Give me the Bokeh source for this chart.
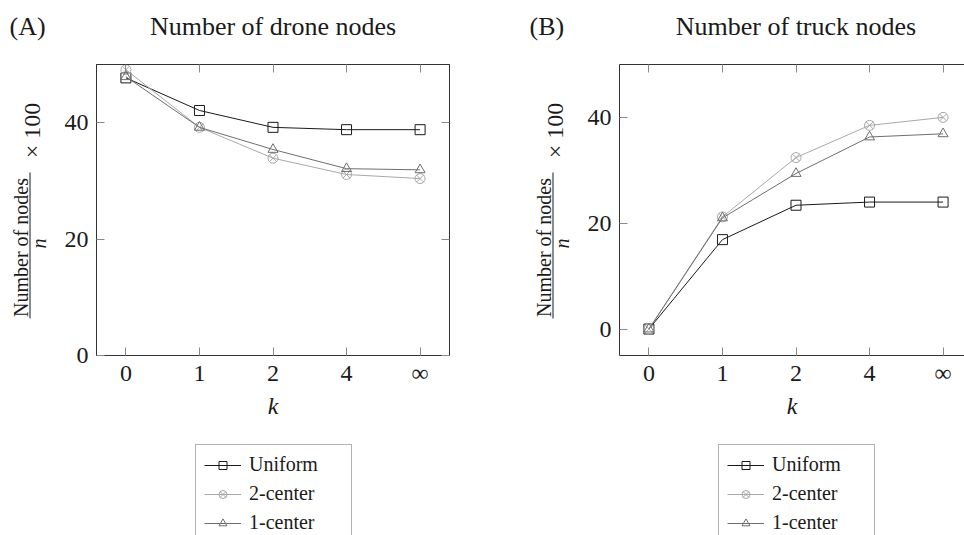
from bokeh.plotting import figure
from bokeh.layouts import row, column
from bokeh.models import (Range1d, FixedTicker, LinearAxis, Legend, LegendItem, Label,
                          ColumnDataSource)
from bokeh.embed import file_html
from bokeh.resources import INLINE
from math import pi

# ---------------- data ----------------
K_POS = [0, 1, 2, 3, 4]
K_LABELS = ["0", "1", "2", "4", "∞"]
Y_TICKS = [0, 20, 40]
SERIES = ["Uniform", "2-center", "1-center"]

DRONE_UNIFORM = [47.7, 42.1, 39.2, 38.8, 38.8]
DRONE_2CENTER = [49.1, 39.2, 33.9, 31.1, 30.4]
DRONE_1CENTER = [47.9, 39.2, 35.4, 32.1, 31.9]

TRUCK_UNIFORM = [0.0, 16.9, 23.4, 24.0, 24.0]
TRUCK_2CENTER = [0.0, 21.2, 32.4, 38.5, 40.0]
TRUCK_1CENTER = [0.0, 21.0, 29.4, 36.3, 36.9]

PANEL_LETTERS = ["(A)", "(B)"]
PANEL_TITLES = ["Number of drone nodes", "Number of truck nodes"]
Y_LABEL_TOP = "Number of nodes"
Y_LABEL_BOTTOM = "n"
Y_LABEL_FACTOR = "× 100"
X_LABEL = "k"

# ---------------- style / layout ----------------
SERIF = "Liberation Serif"
TXT = "#1a1a1a"
FRAME = "#333333"
TICK = "#8a8a8a"
COLORS = ["#1a1a1a", "#a8a8a8", "#6e6e6e"]
MARKERS = ["square", "circle_x", "triangle"]
MID = 0.3375            # distance (em) from alphabetic baseline to text-box middle

W, H = 964, 535
HEAD_H = 44
LEG_H = 100
BODY_H = H - HEAD_H - LEG_H     # 391
FRAME_TOP = 20
FRAME_H = 291
FRAME_BOTTOM_PAGE = HEAD_H + FRAME_TOP + FRAME_H   # 355


def style_axis(ax, labels=True):
    ax.major_tick_in = 8
    ax.major_tick_out = 0
    ax.minor_tick_line_color = None
    ax.major_tick_line_color = TICK
    ax.major_tick_line_width = 1
    ax.axis_line_color = FRAME
    ax.axis_line_width = 1
    ax.major_label_text_font = SERIF
    if labels:
        ax.major_label_text_font_size = "24px"
        ax.major_label_text_color = TXT
    else:
        ax.major_label_text_font_size = "0px"
        ax.major_label_text_color = None
        ax.major_label_standoff = 0


def bare(width, height, x0, x1, y0, y1, top=0, bottom=0):
    p = figure(width=width, height=height, output_backend="svg", toolbar_location=None,
               x_range=Range1d(x0, x1), y_range=Range1d(y0, y1),
               x_axis_location=None, y_axis_location=None,
               min_border_left=0, min_border_right=0, min_border_top=top, min_border_bottom=bottom)
    p.outline_line_color = None
    p.grid.visible = False
    p.background_fill_color = "white"
    p.border_fill_color = "white"
    return p


def make_panel(y_lo, y_hi, x_hi, values, width, border_left, border_right, mirror_right):
    p = figure(width=width, height=BODY_H, output_backend="svg", toolbar_location=None,
               x_range=Range1d(-0.4, x_hi), y_range=Range1d(y_lo, y_hi),
               min_border_left=border_left, min_border_right=border_right,
               min_border_top=FRAME_TOP, min_border_bottom=BODY_H - FRAME_TOP - FRAME_H)
    p.background_fill_color = "white"
    p.border_fill_color = "white"
    p.grid.visible = False
    p.outline_line_color = FRAME if mirror_right else None

    xa = p.xaxis[0]
    xa.ticker = FixedTicker(ticks=K_POS)
    xa.major_label_overrides = {k: lab for k, lab in zip(K_POS, K_LABELS)}
    style_axis(xa)
    xa.major_label_standoff = 4
    xa.axis_label = X_LABEL
    xa.axis_label_text_font = SERIF
    xa.axis_label_text_font_style = "italic"
    xa.axis_label_text_font_size = "24px"
    xa.axis_label_text_color = TXT
    xa.axis_label_standoff = 4

    ya = p.yaxis[0]
    ya.ticker = FixedTicker(ticks=Y_TICKS)
    style_axis(ya)
    ya.major_label_standoff = 8

    top = LinearAxis(ticker=FixedTicker(ticks=K_POS))
    style_axis(top, labels=False)
    p.add_layout(top, "above")
    if mirror_right:
        right = LinearAxis(ticker=FixedTicker(ticks=Y_TICKS))
        style_axis(right, labels=False)
        p.add_layout(right, "right")

    for ys, color, marker in zip(values, COLORS, MARKERS):
        src = ColumnDataSource(dict(x=K_POS, y=ys))
        p.line("x", "y", source=src, line_color=color, line_width=1)
        p.scatter("x", "y", source=src, marker=marker, size=10,
                  line_color=color, fill_color=None, line_width=1)
    return p


def legend_strip(width):
    # frame of this strip is aligned by the column with the panel frame above it
    p = bare(width, LEG_H, 0, 1, 0, 1)
    items = []
    for name, color, marker in zip(SERIES, COLORS, MARKERS):
        src = ColumnDataSource(dict(x=[float("nan")], y=[float("nan")]))
        lr = p.line("x", "y", source=src, line_color=color, line_width=1)
        mr = p.scatter("x", "y", source=src, marker=marker, size=10,
                       line_color=color, fill_color=None, line_width=1)
        items.append(LegendItem(label=name, renderers=[lr, mr]))
    leg = Legend(items=items, location=(99, -8),
                 orientation="vertical",
                 label_text_font=SERIF, label_text_font_size="20px", label_text_color=TXT,
                 glyph_width=37, glyph_height=20, label_height=20, label_width=94,
                 label_standoff=8, spacing=6, padding=8, margin=0,
                 border_line_color="#666666", border_line_width=1,
                 background_fill_color="white", background_fill_alpha=1)
    p.add_layout(leg)
    return p


def ylabel_strip(width, page_x0, frame_left_page):
    hgt = H - HEAD_H
    p = bare(width, hgt, 0, width, 0, FRAME_H,
             top=FRAME_TOP, bottom=hgt - FRAME_TOP - FRAME_H)

    def rel_y(page_y):
        return FRAME_BOTTOM_PAGE - page_y

    def add(text, base_x_page, center_y_page, size, style="normal"):
        p.add_layout(Label(x=base_x_page - MID * size - page_x0, y=rel_y(center_y_page),
                           x_units="screen", y_units="screen", angle=pi / 2,
                           text=text, text_font=SERIF, text_font_size=f"{size}px",
                           text_font_style=style, text_color=TXT,
                           text_align="center", text_baseline="middle"))

    add(Y_LABEL_TOP, frame_left_page - 69, 247, 20)
    add(Y_LABEL_BOTTOM, frame_left_page - 50.5, 243, 20, "italic")
    add(Y_LABEL_FACTOR, frame_left_page - 56, 130, 24)
    bx = frame_left_page - 66.5 - page_x0
    p.segment(x0=[bx], y0=[rel_y(172)], x1=[bx], y1=[rel_y(318)], line_color=TXT, line_width=1)
    return p


# header with panel letters and titles
head = bare(W, HEAD_H, 0, W, 0, HEAD_H)
TITLE_FS = 26
for letter, lx, title, cx in zip(PANEL_LETTERS, [9, 529], PANEL_TITLES, [272.5, 795.5]):
    ymid = HEAD_H - (35 - MID * TITLE_FS)
    head.add_layout(Label(x=lx, y=ymid, x_units="screen", y_units="screen", text=letter,
                          text_font=SERIF, text_font_size=f"{TITLE_FS}px", text_color=TXT,
                          text_align="left", text_baseline="middle"))
    head.add_layout(Label(x=cx, y=ymid, x_units="screen", y_units="screen", text=title,
                          text_font=SERIF, text_font_size=f"{TITLE_FS}px", text_color=TXT,
                          text_align="center", text_baseline="middle"))

# widths: ylabA 50 | pA 460 | ylabB 70 | pB 384  => 964
labA = ylabel_strip(50, 0, 96)
pA = make_panel(0, 50, 4.4, [DRONE_UNIFORM, DRONE_2CENTER, DRONE_1CENTER],
                width=460, border_left=46, border_right=61, mirror_right=True)
legA = legend_strip(460)
labB = ylabel_strip(70, 510, 619)
pB = make_panel(-5, 50, -0.4 + 345 / (353 / 4.8), [TRUCK_UNIFORM, TRUCK_2CENTER, TRUCK_1CENTER],
                width=384, border_left=39, border_right=0, mirror_right=False)
legB = legend_strip(384)

layout = column(head,
                row(labA, column(pA, legA, spacing=0), labB, column(pB, legB, spacing=0), spacing=0),
                spacing=0)
open("out.html", "w").write(file_html(layout, INLINE))
